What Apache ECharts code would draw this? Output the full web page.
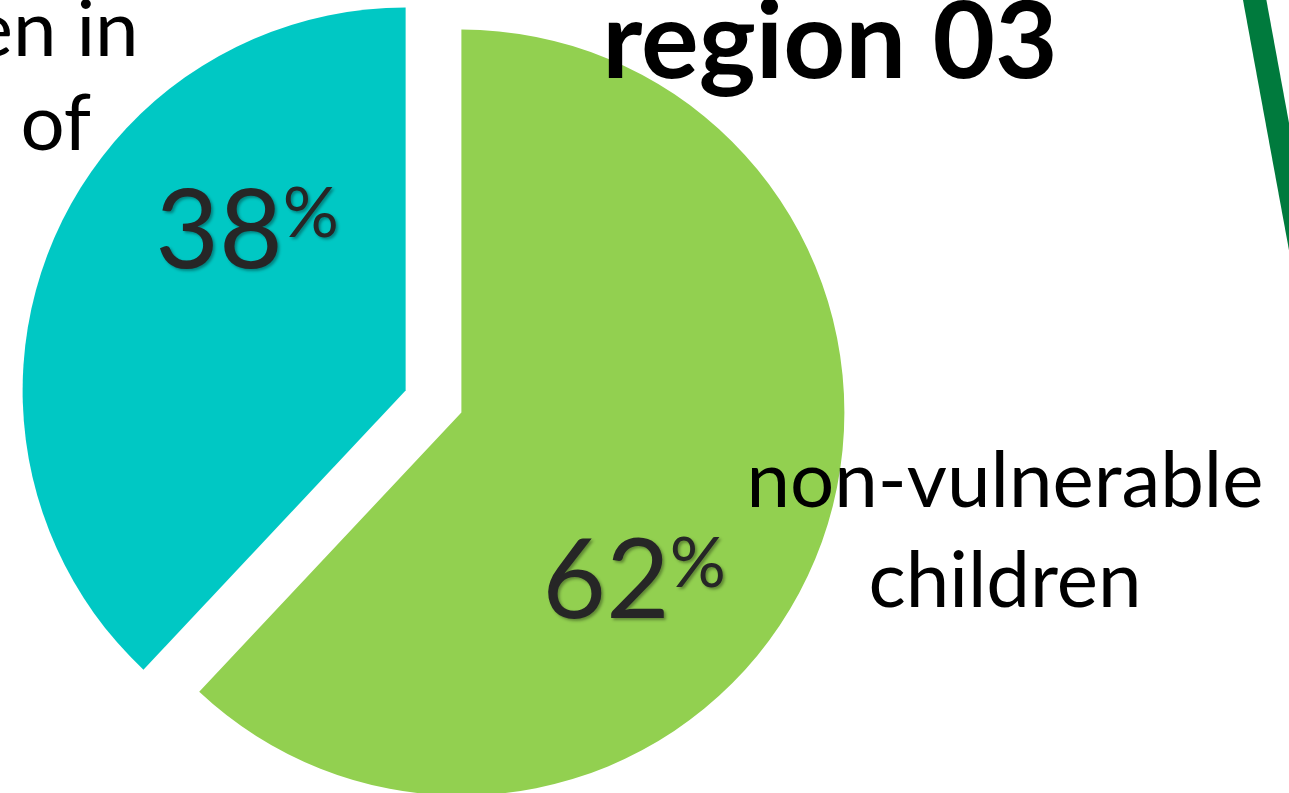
<!DOCTYPE html>
<html>
<head>
<meta charset="utf-8">
<script src="https://cdn.jsdelivr.net/npm/echarts@6/dist/echarts.min.js"></script>
<style>
  html, body { margin: 0; padding: 0; background: #ffffff; }
  #chart { width: 1289px; height: 793px; }
</style>
</head>
<body>
<div id="chart"></div>
<script>
// ---- data ----
const categories = ['non-vulnerable children', 'vulnerable children in need of'];
const nameLines = [['non-vulnerable', 'children'], ['vulnerable', 'children in', 'need of']];
const values = [62, 38];
const colors = ['#92D050', '#00C8C4'];
const titleText = 'region 03';

// ---- layout (positions in code, not data) ----
const PIE_CENTER = [433.5, 401.5];
const PIE_RADIUS = 383;
const pctLabelPos = [[634, 583], [247, 233]];
const nameLabelPos = [[1005, 532], [-39, 31]];
const nameLineHeight = [100, 94];

const chart = echarts.init(document.getElementById('chart'), null, { renderer: 'canvas' });

const shadow = { textShadowColor: 'rgba(0,0,0,0.35)', textShadowBlur: 3, textShadowOffsetX: 2, textShadowOffsetY: 2 };
const clear = 'rgba(0,0,0,0)';

function overlaySeries(labelOpt, posArr, perItemLabel) {
  return {
    type: 'pie',
    silent: true,
    center: PIE_CENTER,
    radius: PIE_RADIUS,
    startAngle: 90,
    clockwise: true,
    emphasis: { disabled: true },
    itemStyle: { color: clear, borderWidth: 0 },
    labelLine: { show: false },
    label: labelOpt,
    labelLayout: params => ({
      x: posArr[params.dataIndex][0],
      y: posArr[params.dataIndex][1],
      align: 'center',
      verticalAlign: 'middle'
    }),
    data: categories.map((c, i) => ({
      name: c, value: values[i],
      label: perItemLabel ? perItemLabel(i) : undefined
    }))
  };
}

const option = {
  backgroundColor: '#ffffff',
  animation: false,
  title: {
    text: titleText,
    left: 825,
    top: -15,
    textAlign: 'center',
    textStyle: { fontFamily: 'Lato', fontWeight: 'bold', fontSize: 108, color: '#000000', lineHeight: 106 }
  },
  graphic: [
    {
      type: 'line',
      z: 10,
      shape: { x1: 1251, y1: -20, x2: 1308, y2: 290 },
      style: { stroke: '#007A3D', lineWidth: 23 },
      silent: true
    }
  ],
  series: [
    {
      type: 'pie',
      center: PIE_CENTER,
      radius: PIE_RADIUS,
      startAngle: 90,
      clockwise: true,
      selectedMode: 'multiple',
      selectedOffset: 30,
      emphasis: { disabled: true },
      select: { itemStyle: { borderWidth: 0 } },
      itemStyle: { borderWidth: 0 },
      label: { show: false },
      labelLine: { show: false },
      data: categories.map((c, i) => ({
        name: c,
        value: values[i],
        selected: true,
        itemStyle: { color: colors[i] }
      }))
    },
    overlaySeries({
      show: true,
      position: 'inside',
      formatter: p => '{n|' + Math.round(p.percent) + '}{p|%}',
      rich: {
        n: Object.assign({ fontFamily: 'Lato', fontSize: 110, lineHeight: 108, color: '#262626' }, shadow),
        p: Object.assign({ fontFamily: 'Lato', fontSize: 70, verticalAlign: 'top', color: '#262626' }, shadow)
      }
    }, pctLabelPos),
    overlaySeries({
      show: true,
      position: 'inside',
      formatter: p => nameLines[p.dataIndex].join('\n'),
      fontFamily: 'Lato',
      fontSize: 78,
      color: '#000000',
      align: 'center'
    }, nameLabelPos, i => ({ lineHeight: nameLineHeight[i] }))
  ]
};

chart.setOption(option);
</script>
</body>
</html>
